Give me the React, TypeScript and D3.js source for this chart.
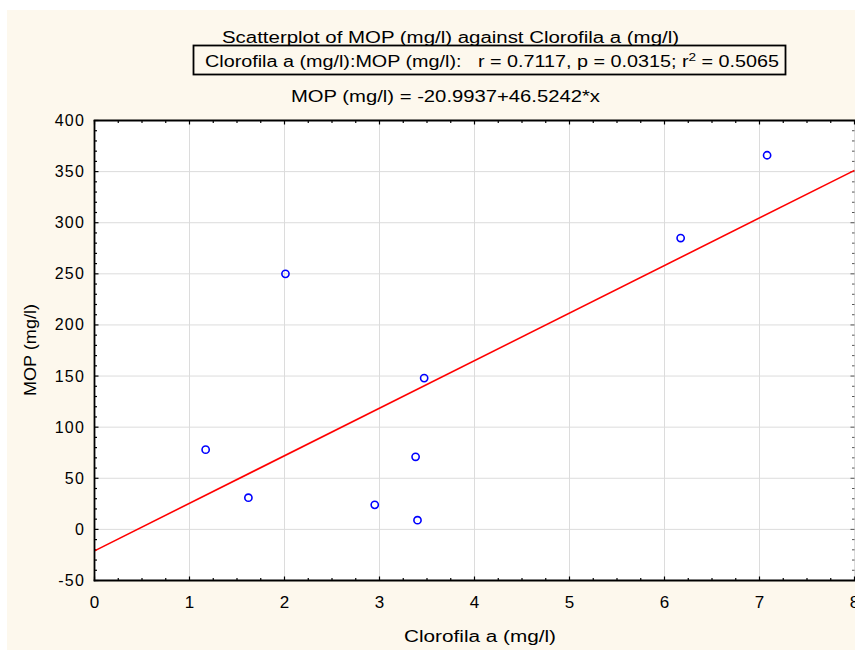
import React from "react";
import * as d3 from "d3";

const chlorophyll = [1.17, 1.62, 2.01, 2.95, 3.38, 3.40, 3.47, 6.17, 7.08];
const mop = [78, 31, 250, 24, 71, 9, 148, 285, 366];
const xTicks = [0, 1, 2, 3, 4, 5, 6, 7, 8];
const yTicks = [-50, 0, 50, 100, 150, 200, 250, 300, 350, 400];
const intercept = -20.9937;
const slope = 46.5242;

const W = 855;
const H = 650;
const L = 94.5;
const R = 854.5;
const T = 120.5;
const B = 580.5;

export default function App() {
  const x = d3.scaleLinear().domain([0, 8]).range([L, R]);
  const y = d3.scaleLinear().domain([-50, 400]).range([B, T]);
  const xMinor = d3.range(0, 8.001, 0.25);
  const yMinor = d3.range(-50, 400.001, 10);
  const line = d3.line<number>().x((d) => x(d)).y((d) => y(intercept + slope * d));
  const narrow = "'Liberation Sans Narrow', 'Liberation Sans', Arial, sans-serif";
  const sans = "'Liberation Sans', Arial, sans-serif";

  return (
    <svg width={W} height={H} style={{ position: "absolute", left: 0, top: 0 }}>
      <rect x={0} y={0} width={W} height={H} fill="#ffffff" />
      <rect x={7} y={10} width={W - 7} height={H - 10} fill="#fdf8ed" />
      <defs>
        <clipPath id="plot">
          <rect x={L} y={T} width={R - L + 2} height={B - T} />
        </clipPath>
      </defs>
      <rect x={L} y={T} width={R - L + 2} height={B - T} fill="#ffffff" />
      {xTicks.map((t) => (
        <line key={"gx" + t} x1={x(t)} x2={x(t)} y1={T} y2={B} stroke="#dcdcdc" strokeWidth={1} />
      ))}
      {yTicks.map((t) => (
        <line key={"gy" + t} x1={L} x2={R + 2} y1={y(t)} y2={y(t)} stroke="#dcdcdc" strokeWidth={1} />
      ))}
      {xMinor.map((t) => {
        const major = Math.abs(t - Math.round(t)) < 1e-6;
        const len = major ? 4 : 2.5;
        return (
          <g key={"mx" + t}>
            <line x1={x(t)} x2={x(t)} y1={B} y2={B - len} stroke="#000" strokeWidth={1.2} />
            <line x1={x(t)} x2={x(t)} y1={T} y2={T + len} stroke="#000" strokeWidth={1.2} />
          </g>
        );
      })}
      {yMinor.map((t) => {
        const major = t % 50 === 0;
        const len = major ? 4 : 2.5;
        return (
          <g key={"my" + t}>
            <line x1={L} x2={L + len} y1={y(t)} y2={y(t)} stroke="#000" strokeWidth={1.2} />
            <line x1={R} x2={R - len} y1={y(t)} y2={y(t)} stroke="#555" strokeWidth={1} />
          </g>
        );
      })}
      <g clipPath="url(#plot)">
        <path d={line([0, 8]) || ""} fill="none" stroke="#ff0000" strokeWidth={1.6} />
      </g>
      {chlorophyll.map((c, i) => (
        <circle key={"p" + i} cx={x(c)} cy={y(mop[i])} r={3.6} fill="none" stroke="#0000ff" strokeWidth={1.6} />
      ))}
      <line x1={L} x2={L} y1={T - 0.5} y2={B + 0.8} stroke="#000" strokeWidth={1.8} />
      <line x1={L - 0.8} x2={W} y1={B} y2={B} stroke="#000" strokeWidth={1.8} />
      <line x1={L - 0.8} x2={W} y1={T} y2={T} stroke="#000" strokeWidth={1.8} />
      {yTicks.map((t) => (
        <text key={"ly" + t} x={85} y={y(t) + 5.5} textAnchor="end" fontFamily={sans} fontSize={16} letterSpacing={1.2} fill="#000">
          {t}
        </text>
      ))}
      {xTicks.map((t) => (
        <text key={"lx" + t} x={x(t)} y={608} textAnchor="middle" fontFamily={narrow} fontSize={17} fill="#000">
          {t}
        </text>
      ))}
      <text x={222} y={43} fontFamily={narrow} fontSize={16} textLength={457} lengthAdjust="spacingAndGlyphs" fill="#000">
        Scatterplot of MOP (mg/l) against Clorofila a (mg/l)
      </text>
      <rect x={193.5} y={45.5} width={592} height={29} fill="none" stroke="#000" strokeWidth={1.8} />
      <text x={205} y={67} fontFamily={narrow} fontSize={16} textLength={574} lengthAdjust="spacingAndGlyphs" fill="#000" style={{ whiteSpace: "pre" }}>
        {"Clorofila a (mg/l):MOP (mg/l):   r = 0.7117, p = 0.0315; r"}
        <tspan fontSize={11} dy={-6}>2</tspan>
        <tspan dy={6}>{" = 0.5065"}</tspan>
      </text>
      <text x={291} y={102} fontFamily={narrow} fontSize={16} textLength={309} lengthAdjust="spacingAndGlyphs" fill="#000">
        MOP (mg/l) = -20.9937+46.5242*x
      </text>
      <text x={404} y={642} fontFamily={narrow} fontSize={16} textLength={152} lengthAdjust="spacingAndGlyphs" fill="#000">
        Clorofila a (mg/l)
      </text>
      <text transform={`translate(36, 396) rotate(-90)`} fontFamily={sans} fontSize={16} textLength={92} lengthAdjust="spacingAndGlyphs" fill="#000">
        MOP (mg/l)
      </text>
    </svg>
  );
}
